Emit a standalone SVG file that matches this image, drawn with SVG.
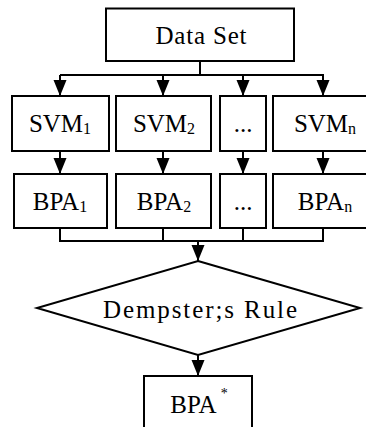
<svg xmlns="http://www.w3.org/2000/svg" width="366" height="427" viewBox="0 0 366 427">
<style>
.box{fill:#fff;stroke:#000;stroke-width:2}
.ln{fill:none;stroke:#000;stroke-width:2}
text{font-family:"Liberation Serif","Times New Roman",serif;font-size:25px;fill:#000}
.sub{font-size:16px}
</style>
<defs>
<marker id="ah" markerUnits="userSpaceOnUse" markerWidth="16" markerHeight="16" viewBox="0 0 16 13" refX="16" refY="6.5" orient="auto">
<path d="M0,0 L16,6.5 L0,13 Z" fill="#000"/>
</marker>
</defs>
<g id="connectors">
<path class="ln" d="M200,61 V75 M60,75 H324"/>
<path class="ln" d="M60,75 V96" marker-end="url(#ah)"/>
<path class="ln" d="M163,75 V96" marker-end="url(#ah)"/>
<path class="ln" d="M243,75 V96" marker-end="url(#ah)"/>
<path class="ln" d="M323,75 V96" marker-end="url(#ah)"/>
<path class="ln" d="M60,151 V174" marker-end="url(#ah)"/>
<path class="ln" d="M163,151 V174" marker-end="url(#ah)"/>
<path class="ln" d="M243,151 V174" marker-end="url(#ah)"/>
<path class="ln" d="M323,151 V174" marker-end="url(#ah)"/>
<path class="ln" d="M60,228 V241 H323 V228 M163,228 V241 M243,228 V241"/>
<path class="ln" d="M198,241 V261" marker-end="url(#ah)"/>
<path class="ln" d="M198,355 V376" marker-end="url(#ah)"/>
</g>
<g id="dataset">
<rect class="box" x="106" y="8.5" width="188" height="52.5"/>
<text x="201" y="44" text-anchor="middle" textLength="91" lengthAdjust="spacing">Data Set</text>
</g>
<g id="svm1">
<rect class="box" x="12" y="96" width="97" height="55"/>
<text x="60" y="132" text-anchor="middle">SVM<tspan class="sub" dy="2">1</tspan></text>
</g>
<g id="svm2">
<rect class="box" x="116" y="96" width="95" height="55"/>
<text x="164" y="132" text-anchor="middle">SVM<tspan class="sub" dy="2">2</tspan></text>
</g>
<g id="svmdots">
<rect class="box" x="220" y="96" width="46" height="55"/>
<text x="243" y="132" text-anchor="middle">...</text>
</g>
<g id="svmn">
<rect class="box" x="273" y="96" width="100" height="55"/>
<text x="325" y="132" text-anchor="middle">SVM<tspan class="sub" dy="2">n</tspan></text>
</g>
<g id="bpa1">
<rect class="box" x="14" y="174" width="93" height="54"/>
<text x="60" y="210" text-anchor="middle">BPA<tspan class="sub" dy="2">1</tspan></text>
</g>
<g id="bpa2">
<rect class="box" x="116" y="174" width="95" height="54"/>
<text x="164" y="210" text-anchor="middle">BPA<tspan class="sub" dy="2">2</tspan></text>
</g>
<g id="bpadots">
<rect class="box" x="220" y="174" width="46" height="54"/>
<text x="243" y="210" text-anchor="middle">...</text>
</g>
<g id="bpan">
<rect class="box" x="273" y="174" width="100" height="54"/>
<text x="325" y="210" text-anchor="middle">BPA<tspan class="sub" dy="2">n</tspan></text>
</g>
<g id="dempster">
<polygon class="box" points="198,261 360,308 198,355 37,308"/>
<text x="103" y="318" textLength="194" lengthAdjust="spacing">Dempster;s Rule</text>
</g>
<g id="bpastar">
<rect class="box" x="144" y="376" width="108" height="60"/>
<text x="199" y="413" text-anchor="middle">BPA<tspan font-size="14" dx="4" dy="-15">*</tspan></text>
</g>
</svg>
